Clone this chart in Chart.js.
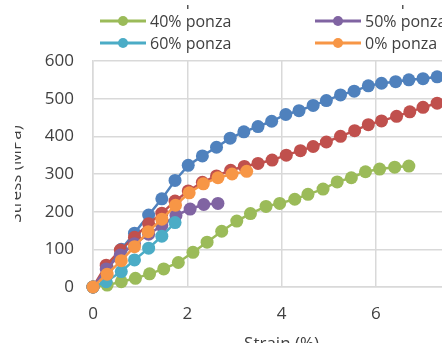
<!DOCTYPE html>
<html>
<head>
<meta charset="utf-8">
<script src="https://cdn.jsdelivr.net/npm/chart.js@4.4.0/dist/chart.umd.min.js"></script>
<style>
  html, body { margin: 0; padding: 0; background: #fff; overflow: hidden; width: 442px; height: 343px; }
  #frame { position: absolute; left: 15px; top: 5px; width: 427px; height: 338px; overflow: hidden; }
  #wrap { position: absolute; left: -15px; top: -5px; width: 492px; height: 360px; }
</style>
</head>
<body>
<div id="frame"><div id="wrap"><canvas id="c" width="492" height="360"></canvas></div></div>
<script>
// Stress-strain curves for mixes with different ponza contents
const seriesNames = ['20% ponza', '30% ponza', '40% ponza', '50% ponza', '60% ponza', '0% ponza'];
const seriesColors = ['#4F81BD', '#C0504D', '#9BBB59', '#8064A2', '#4BACC6', '#F79646'];

const strain20 = [0, 0.3, 0.6, 0.88, 1.18, 1.46, 1.74, 2.02, 2.32, 2.62, 2.91, 3.2, 3.5, 3.79, 4.09, 4.37, 4.67, 4.95, 5.25, 5.54, 5.84, 6.12, 6.42, 6.7, 7.0, 7.3, 7.6];
const stress20 = [0, 52, 100, 143, 191, 234, 283, 323, 348, 371, 395, 412, 426, 440, 458, 468, 482, 495, 510, 520, 534, 541, 545, 550, 553, 558, 561];

const strain30 = [0, 0.28, 0.58, 0.88, 1.18, 1.46, 1.74, 2.02, 2.32, 2.62, 2.92, 3.21, 3.5, 3.8, 4.1, 4.4, 4.67, 4.95, 5.25, 5.55, 5.84, 6.12, 6.44, 6.72, 7.0, 7.3, 7.6];
const stress30 = [0, 58, 98, 132, 168, 196, 228, 255, 278, 295, 310, 320, 328, 337, 350, 362, 373, 385, 400, 415, 431, 441, 453, 465, 477, 488, 498];

const strain40 = [0, 0.3, 0.6, 0.9, 1.2, 1.5, 1.81, 2.12, 2.42, 2.73, 3.05, 3.34, 3.67, 3.96, 4.28, 4.56, 4.88, 5.18, 5.48, 5.78, 6.08, 6.4, 6.7];
const stress40 = [0, 5, 14, 23, 35, 48, 65, 92, 119, 148, 175, 195, 214, 222, 233, 246, 260, 279, 290, 306, 313, 318, 321];

const strain50 = [0, 0.28, 0.58, 0.88, 1.18, 1.46, 1.76, 2.06, 2.35, 2.65];
const stress50 = [0, 48, 85, 115, 140, 163, 190, 207, 219, 222];

const strain60 = [0, 0.28, 0.6, 0.88, 1.18, 1.46, 1.74];
const stress60 = [0, 14, 41, 72, 103, 135, 171];

const strain0 = [0, 0.3, 0.6, 0.88, 1.17, 1.46, 1.75, 2.04, 2.34, 2.65, 2.95, 3.26];
const stress0 = [0, 34, 70, 107, 147, 180, 217, 250, 274, 290, 300, 307];

const xTicks = [0, 2, 4, 6, 8];
const yTicks = [0, 100, 200, 300, 400, 500, 600];

const strains = [strain20, strain30, strain40, strain50, strain60, strain0];
const stresses = [stress20, stress30, stress40, stress50, stress60, stress0];

const FONT = '"Open Sans", "DejaVu Sans", sans-serif';
const TEXT = '#404040';
const GRID = '#d9d9d9';

const datasets = seriesNames.map((name, i) => ({
  label: name,
  data: strains[i].map((x, j) => ({ x: x, y: stresses[i][j] })),
  showLine: true,
  borderColor: seriesColors[i],
  backgroundColor: seriesColors[i],
  pointBackgroundColor: seriesColors[i],
  pointBorderColor: seriesColors[i],
  pointBorderWidth: 0,
  pointRadius: 6.5,
  borderWidth: 2.5,
  tension: 0,
  clip: false,
  // later series sit on top of earlier ones
  order: seriesNames.length - i
}));

// Two-column key drawn above the plot
const seriesKey = {
  id: 'seriesKey',
  afterDraw(chart) {
    const ctx = chart.ctx;
    const colX = [100, 315];
    const rowY = [-1, 21, 43];
    ctx.save();
    ctx.font = '16px ' + FONT;
    ctx.textBaseline = 'middle';
    ctx.textAlign = 'left';
    chart.data.datasets.forEach((ds, i) => {
      const x = colX[i % 2];
      const y = rowY[Math.floor(i / 2)];
      ctx.strokeStyle = ds.borderColor;
      ctx.lineWidth = 3;
      ctx.beginPath();
      ctx.moveTo(x, y);
      ctx.lineTo(x + 46, y);
      ctx.stroke();
      ctx.fillStyle = ds.borderColor;
      ctx.beginPath();
      ctx.arc(x + 23, y, 5, 0, Math.PI * 2);
      ctx.fill();
      ctx.fillStyle = TEXT;
      ctx.fillText(ds.label, x + 50, y + 1);
    });
    ctx.restore();
  }
};

new Chart(document.getElementById('c'), {
  type: 'scatter',
  data: { datasets: datasets },
  options: {
    responsive: false,
    animation: false,
    devicePixelRatio: 1,
    layout: { padding: { left: 0, top: 61, right: 0, bottom: 0 } },
    plugins: { legend: { display: false }, tooltip: { enabled: false } },
    scales: {
      x: {
        type: 'linear',
        min: 0,
        max: 8,
        afterBuildTicks: s => { s.ticks = xTicks.map(v => ({ value: v })); },
        afterFit: s => { s.height = 73; },
        grid: { color: GRID, lineWidth: 1.5, drawTicks: false },
        border: { color: GRID, width: 1.5 },
        ticks: { color: TEXT, font: { family: FONT, size: 17 }, padding: 17 },
        title: { display: true, text: 'Strain (%)', color: TEXT, font: { family: FONT, size: 17 }, padding: 6 }
      },
      y: {
        min: 0,
        max: 600,
        afterBuildTicks: s => { s.ticks = yTicks.map(v => ({ value: v })); },
        afterFit: s => { s.width = 93; },
        grid: { color: GRID, lineWidth: 1.5, drawTicks: false },
        border: { color: GRID, width: 1.5 },
        ticks: { color: TEXT, font: { family: FONT, size: 17 }, padding: 19 },
        title: { display: true, text: 'Stress (MPa)', color: TEXT, font: { family: FONT, size: 17 }, padding: 6 }
      }
    }
  },
  plugins: [seriesKey]
});
</script>
</body>
</html>
